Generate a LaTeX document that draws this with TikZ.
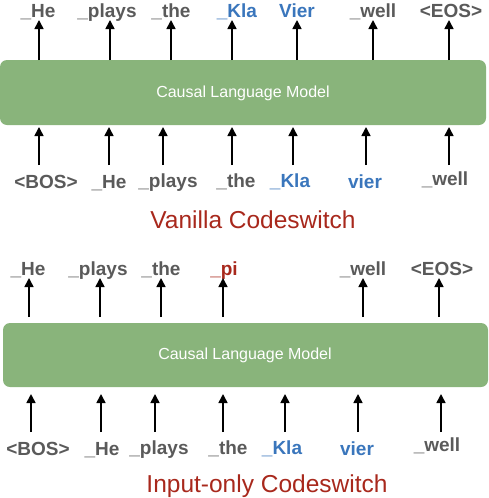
\documentclass[tikz,border=0pt]{standalone}
\usepackage{fontspec}
\setmainfont{Liberation Sans}
\usetikzlibrary{arrows.meta}
\definecolor{tokgray}{HTML}{5A5A5A}
\definecolor{tokblue}{HTML}{3A76BC}
\definecolor{tokred}{HTML}{A8281C}
\definecolor{boxgreen}{HTML}{89B47B}
\tikzset{
  tok/.style={anchor=base, inner sep=0pt, text=tokgray, font=\fontsize{19}{22}\selectfont\bfseries},
  blu/.style={tok, text=tokblue},
  redtok/.style={tok, text=tokred},
  model/.style={fill=boxgreen, rounded corners=7pt, draw=none},
  modeltext/.style={text=white, font=\fontsize{16}{19}\selectfont, inner sep=0pt},
  title/.style={anchor=base, inner sep=0pt, text=tokred, font=\fontsize{24.5}{28}\selectfont},
  arr/.style={line width=1.6pt, -{Triangle[width=9pt,length=9pt]}}
}
\begin{document}
\begin{tikzpicture}[x=1pt,y=-1pt]
\useasboundingbox (0,0) rectangle (488,498);
% ===== top panel =====
\path[model] (0,60) rectangle (486,125);
\node[modeltext] (m1) at (243,93) {Causal Language Model};
% outputs
\node[tok] (o1) at (38,17) {\_He};
\node[tok] (o2) at (107,17) {\_plays};
\node[tok] (o3) at (171,17) {\_the};
\node[blu] (o4) at (237,17) {\_Kla};
\node[blu] (o5) at (297,17) {Vier};
\node[tok] (o6) at (373,17) {\_well};
\node[tok] (o7) at (451,17) {<EOS>};
\foreach \x [count=\i] in {39,110,171,232,297,373,449}{
  \coordinate (ua\i) at (\x,60); \coordinate (ub\i) at (\x,20);
  \draw[arr] (ua\i) -- (ub\i);
}
% inputs
\node[tok] (i1) at (46,188) {<BOS>};
\node[tok] (i2) at (109,188) {\_He};
\node[tok] (i3) at (168,187) {\_plays};
\node[tok] (i4) at (236,187) {\_the};
\node[blu] (i5) at (290,187) {\_Kla};
\node[blu] (i6) at (365,188) {vier};
\node[tok] (i7) at (445,185) {\_well};
\foreach \x [count=\i] in {39,109,163,232,293,366,449}{
  \coordinate (la\i) at (\x,165); \coordinate (lb\i) at (\x,127);
  \draw[arr] (la\i) -- (lb\i);
}
\node[title] (t1) at (253,228) {Vanilla Codeswitch};
% ===== bottom panel =====
\path[model] (3,323) rectangle (488,387);
\node[modeltext] (m2) at (245,355) {Causal Language Model};
\node[tok] (p1) at (28,275) {\_He};
\node[tok] (p2) at (98,275) {\_plays};
\node[tok] (p3) at (161,275) {\_the};
\node[redtok] (p4) at (224,275) {\_pi};
\node[tok] (p5) at (363,275) {\_well};
\node[tok] (p6) at (442,275) {<EOS>};
\foreach \x [count=\i] in {29,100,161,223,363,439}{
  \coordinate (va\i) at (\x,317); \coordinate (vb\i) at (\x,278);
  \draw[arr] (va\i) -- (vb\i);
}
\node[tok] (q1) at (38,455) {<BOS>};
\node[tok] (q2) at (102,455) {\_He};
\node[tok] (q3) at (159,454) {\_plays};
\node[tok] (q4) at (228,454) {\_the};
\node[blu] (q5) at (282,454) {\_Kla};
\node[blu] (q6) at (357,455) {vier};
\node[tok] (q7) at (437,451) {\_well};
\foreach \x [count=\i] in {31,101,155,223,285,358,441}{
  \coordinate (wa\i) at (\x,432); \coordinate (wb\i) at (\x,394);
  \draw[arr] (wa\i) -- (wb\i);
}
\node[title] (t2) at (267,492) {Input-only Codeswitch};
\end{tikzpicture}
\end{document}
